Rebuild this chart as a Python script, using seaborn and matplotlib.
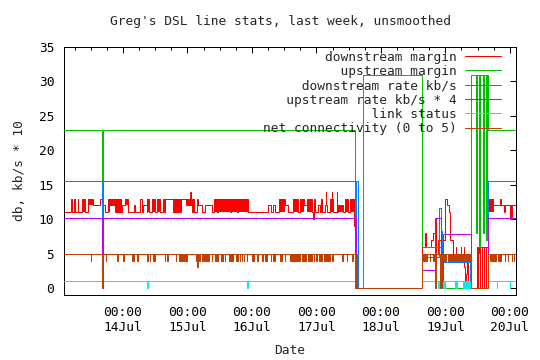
import pandas as pd
import matplotlib
matplotlib.use("Agg")
import matplotlib.pyplot as plt
import matplotlib.dates as mdates
import matplotlib.ticker as mticker
import seaborn as sns

# time axis: hours since 13 Jul 00:00
START = pd.Timestamp("2008-07-13 00:00")
T_BEGIN = 2.05
T_END = 170.3

# ---- step data: (hour, value) ----
down_margin = [
    (2.05, 11), (4.65, 13), (5.02, 11), (5.88, 13), (6.14, 11), (7.14, 13), (7.37, 11),
    (8.63, 13), (9.86, 11), (10.98, 13), (12.84, 12), (15.44, 13), (16.07, 11), (16.30, 0),
    (16.45, 12), (17.49, 11), (18.31, 13), (19.16, 12), (21.02, 11), (23.52, 12), (24.74, 13),
    (25.97, 11), (28.09, 12), (28.35, 11), (30.33, 13), (30.96, 11), (31.55, 12), (32.82, 11),
    (33.04, 13), (33.79, 11), (34.68, 13), (36.09, 11), (36.76, 13), (37.77, 11), (38.99, 13),
    (39.26, 11), (39.52, 13), (42.72, 11), (45.47, 13), (47.44, 12), (48.93, 14), (49.19, 12),
    (49.56, 13), (49.86, 11), (50.16, 13), (50.42, 11), (51.42, 13), (52.02, 12), (53.28, 11),
    (54.51, 12), (57.00, 11), (57.86, 13), (58.87, 11), (59.46, 13), (63.81, 11), (64.19, 13),
    (66.31, 11), (66.90, 13), (68.39, 12), (68.76, 13), (70.40, 11), (78.07, 12), (79.07, 11),
    (79.93, 12), (80.56, 11), (82.05, 13), (84.28, 12), (85.51, 11), (87.37, 13), (89.23, 11),
    (89.86, 13), (91.46, 12), (92.35, 13), (94.21, 11), (94.81, 10), (94.96, 11), (95.18, 13),
    (95.44, 11), (96.67, 12), (97.30, 11), (97.67, 13), (97.93, 11), (99.16, 12), (99.53, 14),
    (99.72, 12), (99.91, 11), (101.02, 13), (101.66, 14), (101.88, 13), (102.25, 11),
    (103.52, 14), (103.74, 11), (104.11, 12), (105.97, 11), (106.60, 13), (107.83, 11),
    (108.47, 13), (109.95, 9), (110.44, 0),
    (135.37, 6), (136.37, 8), (136.63, 6), (138.72, 7), (139.35, 8), (139.98, 10), (140.65, 5),
    (141.21, 7), (143.70, 13), (144.67, 12), (145.30, 11), (145.79, 7), (146.79, 5),
    (147.91, 6), (148.05, 5), (149.77, 6), (149.90, 5), (150.88, 6), (151.00, 3), (151.44, 1),
    (151.81, 2), (152.10, 4), (152.37, 0),
    (155.83, 6), (156.09, 0), (156.28, 6), (156.84, 0), (157.02, 6), (157.58, 0), (157.77, 6),
    (158.33, 0), (158.51, 6), (159.07, 0), (159.26, 6), (159.70, 0), (159.93, 12),
    (164.28, 13), (164.65, 12), (165.77, 11), (166.14, 12), (168.00, 10), (168.75, 12),
]
up_margin = [
    (2.05, 23), (16.30, 0), (16.45, 23), (110.44, 0), (113.41, 31), (135.37, 6), (142.70, 0),
    (153.49, 31), (155.54, 8), (155.91, 31), (156.65, 6), (157.02, 31), (157.88, 8),
    (158.25, 31), (159.18, 7), (159.55, 31), (159.93, 23),
]
down_rate = [
    (2.05, 15.5), (16.30, 0), (16.45, 15.5), (110.44, 9), (110.70, 15.5), (111.55, 0),
    (135.37, 4.5), (141.47, 11.6), (142.44, 8.3), (142.88, 3.8), (153.30, 0), (159.93, 15.5),
]
up_rate = [
    (2.05, 10.2), (16.30, 0), (16.45, 10.2), (110.44, 7), (110.80, 0), (135.37, 2.7),
    (140.20, 10.2), (142.44, 0), (143.18, 7.8), (153.38, 0), (159.93, 10.2),
]
link_status = [
    (2.05, 1), (16.30, 0), (16.45, 1), (33.04, 0), (33.41, 1), (70.25, 0), (70.44, 1),
    (110.44, 0), (135.37, 1), (141.21, 0), (141.58, 1), (141.77, 0), (142.14, 1), (142.33, 0),
    (143.07, 1), (143.44, 0), (143.81, 1), (147.53, 0), (148.17, 1), (150.51, 0), (150.88, 1),
    (151.26, 0), (152.00, 1), (152.19, 0), (153.12, 1), (153.38, 0), (159.93, 1),
    (163.05, 0), (163.27, 1), (168.00, 0), (168.19, 1),
]
net_conn = [
    (2.05, 5), (16.30, 0), (16.45, 5), (110.44, 0), (135.37, 5), (153.38, 0), (159.93, 5),
]
# short dips of net connectivity: (start, end, level)
net_dips = [
    (12.09, 12.21, 4), (17.67, 17.79, 4), (21.88, 22.0, 4), (24.11, 24.23, 4), (27.46, 27.58, 4),
    (28.09, 28.21, 4), (29.32, 29.44, 4), (33.04, 33.16, 4), (34.05, 34.17, 4), (35.27, 35.91, 4),
    (39.63, 39.75, 4), (40.48, 40.6, 4), (43.72, 43.84, 4), (44.84, 46.21, 4), (46.70, 47.70, 4),
    (51.16, 51.28, 4), (51.65, 51.77, 3), (52.39, 52.51, 4), (53.28, 54.14, 4), (54.51, 56.0, 4),
    (57.0, 57.12, 4), (58.23, 59.46, 4), (60.46, 61.32, 4), (61.95, 62.07, 4), (63.44, 65.04, 4),
    (66.05, 66.9, 4), (67.53, 67.65, 4), (68.17, 68.29, 4), (69.03, 69.15, 4), (70.03, 70.15, 4),
    (71.89, 72.86, 4), (73.75, 74.35, 4), (75.83, 75.95, 4), (76.84, 77.47, 4), (78.96, 79.08, 4),
    (79.93, 80.05, 4), (80.56, 80.68, 4), (82.42, 83.27, 4), (84.28, 84.4, 4), (86.17, 89.86, 4),
    (90.49, 91.98, 4), (92.95, 94.21, 4), (95.07, 95.19, 4), (95.70, 96.07, 4), (97.04, 97.93, 4),
    (98.90, 101.02, 4), (101.66, 102.25, 4), (105.38, 105.5, 4), (105.6, 105.72, 4),
    (107.24, 107.36, 4), (109.10, 109.69, 4),
    (135.7, 136.7, 4), (137.2, 137.32, 4), (138.2, 138.32, 4), (139.5, 139.62, 4),
    (140.1, 140.7, 0), (141.9, 142.6, 0), (143.2, 144.4, 4), (145.0, 146.3, 4),
    (146.9, 151.9, 4), (152.5, 153.1, 4),
    (160.56, 162.98, 4), (163.6, 164.84, 4), (166.14, 166.26, 4), (167.37, 167.5, 4),
    (168.63, 168.75, 4), (169.6, 169.72, 4),
]
# stretches of rapid toggling that render as solid blocks: (start, end, low, high)
down_margin_bands = [
    (8.63, 9.86, 11, 13), (10.98, 12.84, 12, 13), (18.31, 19.16, 11, 13), (19.16, 21.02, 12, 13),
    (21.02, 23.52, 11, 13), (24.74, 25.97, 12, 13), (33.04, 33.79, 11, 13), (34.68, 36.09, 11, 13),
    (36.76, 37.77, 11, 13), (42.72, 45.47, 11, 13), (47.44, 48.93, 12, 13), (57.86, 58.87, 11, 13),
    (59.46, 63.81, 11, 13), (64.19, 66.31, 11, 13), (66.90, 70.40, 11, 13), (82.05, 84.28, 11, 13),
    (87.37, 89.23, 11, 13), (89.86, 91.46, 11, 13), (92.35, 94.21, 11, 13),
    (101.02, 102.25, 11, 13), (104.11, 105.97, 11, 12), (106.60, 107.83, 11, 13),
    (108.47, 109.95, 11, 13), (147.9, 149.0, 4, 5), (149.5, 151.0, 3.8, 5),
    (155.83, 157.2, 5, 6), (160.19, 162.05, 11, 13), (168.0, 168.75, 10, 12),
]
up_rate_bands = [(110.44, 111.0, 0, 10.2)]
link_bands = [(141.3, 143.8, 0, 1), (147.5, 148.2, 0, 1), (150.6, 153.1, 0, 1)]
net_bands = [(110.44, 111.55, 0, 5)]

labels = ["downstream margin", "upstream margin", "downstream rate kb/s",
          "upstream rate kb/s * 4", "link status", "net connectivity (0 to 5)"]
colors = ["#ff0000", "#00c000", "#0080ff", "#c000ff", "#00eeee", "#c04000"]


def to_time(h):
    return START + pd.to_timedelta(h, unit="h")


def build(steps, dips=()):
    times = sorted(set([t for t, _ in steps] + [a for a, _, _ in dips]
                       + [b for _, b, _ in dips] + [T_END]))
    vals = []
    for t in times:
        v = [val for st, val in steps if st <= t][-1]
        for a, b, lvl in dips:
            if a <= t < b:
                v = lvl
        vals.append(v)
    return pd.DataFrame({"time": to_time(pd.Series(times)), "value": vals})


sns.set_style("white")
plt.rcParams["font.family"] = ["DejaVu Sans Mono"]
plt.rcParams["font.size"] = 9.3

fig = plt.figure(figsize=(5.4, 3.6), dpi=100)
ax = fig.add_axes([64 / 540, 1 - 295 / 360, 452 / 540, 248 / 360])

series = [(down_margin, (), down_margin_bands),
          (up_margin, (), []),
          (down_rate, (), []),
          (up_rate, (), up_rate_bands),
          (link_status, (), link_bands),
          (net_conn, net_dips, net_bands)]

for i, (steps, dips, bands) in enumerate(series):
    df = build(steps, dips)
    sns.lineplot(data=df, x="time", y="value", drawstyle="steps-post", estimator=None,
                 sort=False, color=colors[i], linewidth=0.72, ax=ax,
                 label=labels[i].rjust(25), zorder=2 + i, snap=True)
    # dips and toggling blocks filled in the series colour
    fills = list(bands)
    for a, b, lvl in dips:
        base = [val for st, val in steps if st <= a][-1]
        fills.append((a, b, lvl, base))
    for a, b, lo, hi in fills:
        ax.fill_between(to_time(pd.Series([a, b])), lo, hi, color=colors[i], lw=0,
                        zorder=2 + i, antialiased=False)

ax.set_xlim(to_time(T_BEGIN), to_time(T_END))
ax.set_ylim(-1, 35)
ax.yaxis.set_major_locator(mticker.MultipleLocator(5))
ax.xaxis.set_major_locator(mdates.DayLocator())
ax.xaxis.set_minor_locator(mdates.HourLocator(byhour=[6, 12, 18]))
ax.xaxis.set_major_formatter(mdates.DateFormatter("%H:%M\n%d%b"))
ax.tick_params(which="both", direction="in", top=True, right=True, color="black",
               labelsize=9.3, labelcolor="black")
ax.tick_params(which="major", length=4, width=0.72)
ax.tick_params(axis="x", which="major", pad=8)
ax.tick_params(axis="y", which="major", pad=7)
ax.tick_params(which="minor", length=2, width=0.72)
for sp in ax.spines.values():
    sp.set_color("black")
    sp.set_linewidth(0.72)

ax.set_xlabel("Date", fontsize=9.3, labelpad=7)
ax.set_ylabel("db, kb/s * 10", fontsize=9.3, labelpad=9)
fig.text(280 / 540, 1 - 22 / 360, "Greg's DSL line stats, last week, unsmoothed",
         ha="center", va="center", fontsize=9.3)

handles, labs = ax.get_legend_handles_labels()
ax.legend(handles, labs, loc="upper right", bbox_to_anchor=(0.967, 0.985), frameon=False,
          markerfirst=False, handlelength=2.8, handletextpad=0.6, labelspacing=0.1,
          borderaxespad=0, borderpad=0, fontsize=9.3)

fig.canvas.draw()
for lbl in ax.get_xticklabels():
    lbl.set_linespacing(1.2)

fig.savefig("out.png", dpi=100)
